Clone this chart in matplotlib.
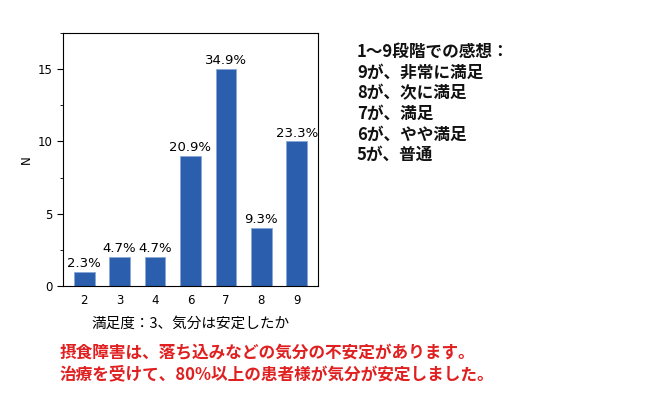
import matplotlib
matplotlib.use("Agg")
import matplotlib.pyplot as plt
from matplotlib.ticker import MultipleLocator

plt.rcParams['font.family'] = ['DejaVu Sans', 'Noto Sans CJK JP']

categories = ['2', '3', '4', '6', '7', '8', '9']
counts = [1, 2, 2, 9, 15, 4, 10]
pct_labels = ['2.3%', '4.7%', '4.7%', '20.9%', '34.9%', '9.3%', '23.3%']
xlabel = '満足度：3、気分は安定したか'
ylabel = 'N'
legend_lines = ['1～9段階での感想：', '9が、非常に満足', '8が、次に満足', '7が、満足', '6が、やや満足', '5が、普通']
note_lines = ['摂食障害は、落ち込みなどの気分の不安定があります。',
              '治療を受けて、80%以上の患者様が気分が安定しました。']

fig = plt.figure(figsize=(6.5, 4.16), dpi=100)
W, H = 650, 416
ax = fig.add_axes([63 / W, 1 - 286 / H, (318 - 63) / W, (286 - 33) / H])

x = list(range(len(categories)))
ax.bar(x, counts, width=0.58, color='#2b5fad', edgecolor='#8aa6d6', linewidth=0.6)
for xi, c, lab in zip(x, counts, pct_labels):
    ax.text(xi, c + 0.12, lab, ha='center', va='bottom', fontsize=9.5, family=['DejaVu Sans'])

ax.set_xlim(-0.6, 6.6)
ax.set_ylim(0, 17.5)
ax.set_xticks(x)
ax.set_xticklabels(categories, fontsize=8.5)
ax.yaxis.set_major_locator(MultipleLocator(5))
ax.yaxis.set_minor_locator(MultipleLocator(2.5))
ax.tick_params(axis='y', labelsize=8.5, length=4)
ax.tick_params(axis='x', length=0, pad=6)
ax.set_ylabel(ylabel, fontsize=8.5, labelpad=2)
ax.yaxis.set_label_coords(-25 / 255 - 0.02, 0.5)
ax.set_xlabel(xlabel, fontsize=10.5, family=['Noto Sans CJK JP', 'DejaVu Sans'], labelpad=7)

for i, line in enumerate(legend_lines):
    fig.text(357 / W, 1 - (52 + i * 20.6) / H, line, fontsize=12, fontweight='bold',
             family=['Noto Sans CJK JP', 'DejaVu Sans'], va='center', ha='left', color='#111111')

for i, line in enumerate(note_lines):
    fig.text(60 / W, 1 - (353 + i * 21) / H, line, fontsize=12, fontweight='bold',
             family=['Noto Sans CJK JP', 'DejaVu Sans'], va='center', ha='left', color='#e02020')

fig.savefig('out.png', dpi=100)
